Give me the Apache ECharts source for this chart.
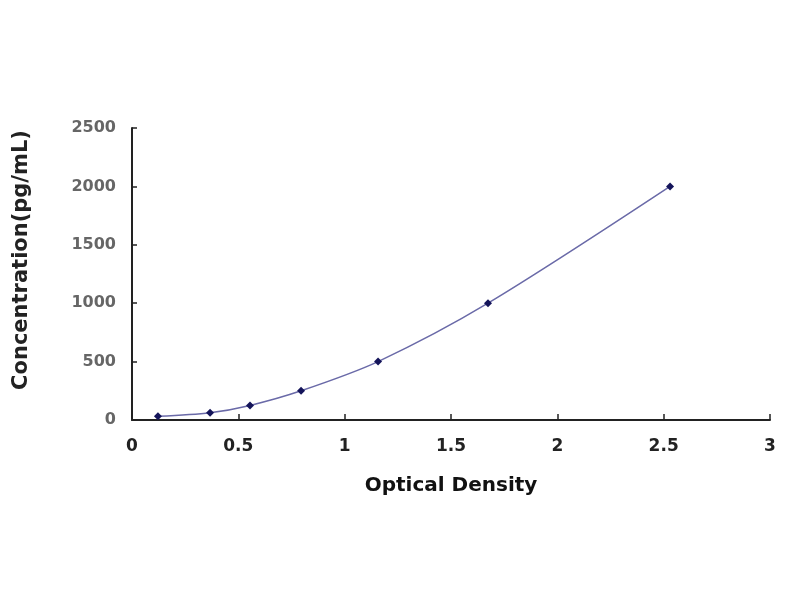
<!DOCTYPE html>
<html>
<head>
<meta charset="utf-8">
<script src="https://cdn.jsdelivr.net/npm/echarts@6/dist/echarts.min.js"></script>
<style>
  html, body { margin: 0; padding: 0; background: #fff; }
  #main { width: 800px; height: 600px; }
</style>
</head>
<body>
<div id="main"></div>
<script>
// standard curve points
var opticalDensity = [0.122, 0.367, 0.555, 0.795, 1.157, 1.674, 2.53];
var concentration = [31.25, 62.5, 125, 250, 500, 1000, 2000];

var points = opticalDensity.map(function (x, i) {
    return [x, concentration[i]];
});

var chart = echarts.init(document.getElementById('main'));

var labelFont = 'DejaVu Sans';

var option = {
    backgroundColor: '#ffffff',
    animation: false,
    grid: { left: 132, right: 30, top: 128, bottom: 180, outerBoundsMode: 'none', containLabel: false },
    xAxis: {
        type: 'value',
        min: 0,
        max: 3,
        interval: 0.5,
        name: 'Optical Density',
        nameLocation: 'middle',
        nameGap: 56,
        nameTextStyle: { fontFamily: labelFont, fontWeight: 'bold', fontSize: 20, color: '#111' },
        axisLine: { lineStyle: { color: '#222', width: 2 } },
        axisTick: { inside: true, length: 6, lineStyle: { color: '#222', width: 1.5 } },
        axisLabel: { fontFamily: labelFont, fontWeight: 'bold', fontSize: 17, color: '#222', margin: 18 },
        splitLine: { show: false }
    },
    yAxis: {
        type: 'value',
        min: 0,
        max: 2500,
        interval: 500,
        name: 'Concentration(pg/mL)',
        nameLocation: 'middle',
        nameGap: 100,
        nameTextStyle: { fontFamily: labelFont, fontWeight: 'bold', fontSize: 21, color: '#222', padding: [0, 0, 0, 28] },
        axisLine: { show: true, lineStyle: { color: '#222', width: 2 } },
        axisTick: { show: true, inside: true, length: 5, lineStyle: { color: '#222', width: 1.5 } },
        axisLabel: {
            fontFamily: labelFont, fontWeight: 'bold', fontSize: 16, color: '#666', margin: 16,
            formatter: function (v) { return String(v); }
        },
        splitLine: { show: false }
    },
    series: [{
        type: 'line',
        data: points,
        smooth: 0.3,
        symbol: 'diamond',
        symbolSize: 8,
        itemStyle: { color: '#14145a' },
        lineStyle: { color: '#6a6aa8', width: 1.5 }
    }]
};

chart.setOption(option);
</script>
</body>
</html>
